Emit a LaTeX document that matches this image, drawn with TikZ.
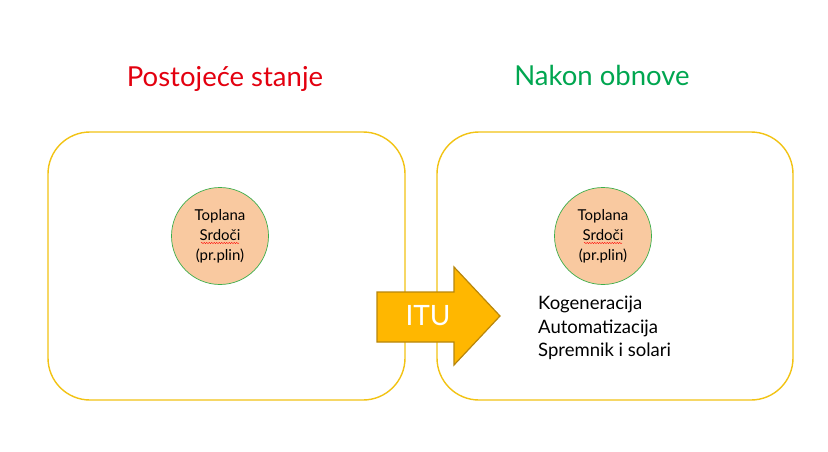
\documentclass[tikz,border=0pt]{standalone}
\usepackage{fontspec}
\setmainfont{Lato}
\usetikzlibrary{decorations.pathmorphing}
\definecolor{boxline}{HTML}{F2C314}
\definecolor{peach}{HTML}{F9C9A0}
\definecolor{circline}{HTML}{3DAE4B}
\definecolor{titlered}{HTML}{E3000F}
\definecolor{titlegreen}{HTML}{00A650}
\definecolor{arrowfill}{HTML}{FFB700}
\definecolor{arrowline}{HTML}{B8860B}
\tikzset{
  panel/.style={draw=boxline, line width=1.4pt, rounded corners=42pt},
  plant/.style={circle, draw=circline, line width=0.7pt, fill=peach, minimum size=97pt, inner sep=0pt, align=center, font=\fontsize{15}{20}\selectfont},
  title/.style={font=\fontsize{27.5}{32}\selectfont},
  squig/.style={draw=red, line width=0.4pt, decorate, decoration={snake, amplitude=0.6pt, segment length=2.5pt}}
}
\begin{document}
\begin{tikzpicture}[x=1pt,y=-1pt]
\useasboundingbox (0,0) rectangle (828,452);
\fill[white] (0,0) rectangle (828,452);
\draw[panel] (48,132) rectangle (405,400);
\draw[panel] (437,132) rectangle (793,400);
\node[title, text=titlered] (t1) at (225,79) {Postoje\'{c}e stanje};
\node[title, text=titlegreen] (t2) at (602,75) {Nakon obnove};
\node[plant] (c1) at (220,236) {Toplana\\Srdoči\\(pr.plin)};
\node[plant] (c2) at (603,236) {Toplana\\Srdoči\\(pr.plin)};
\draw[squig] (201,243) -- (239,243);
\draw[squig] (584,243) -- (622,243);
\fill[arrowfill, draw=arrowline, line width=1.2pt]
  (377,292) -- (454,292) -- (454,267) -- (500,316) -- (454,365) -- (454,342) -- (377,342) -- cycle;
\node[text=white, font=\fontsize{28}{32}\selectfont] (itu) at (428,316) {ITU};
\node[anchor=north west, align=left, inner sep=0pt, font=\fontsize{18.5}{23.5}\selectfont] (list) at (538,296)
  {Kogeneracija\\Automatizacija\\Spremnik i solari};
\end{tikzpicture}
\end{document}
